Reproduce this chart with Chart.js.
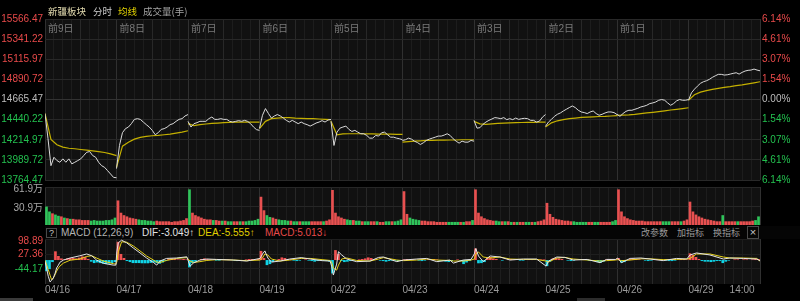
<!DOCTYPE html>
<html>
<head>
<meta charset="utf-8">
<script src="https://cdn.jsdelivr.net/npm/chart.js@4.4.1/dist/chart.umd.min.js"></script>
<style>
  body { margin: 0; background: #000; width: 800px; height: 301px; overflow: hidden; position: relative;
         font-family: "Liberation Sans", "Noto Sans CJK SC", sans-serif; }
  canvas { position: absolute; left: 0; }
  .hd { position: absolute; top: 4px; font-size: 9.5px; line-height: 14px; white-space: nowrap; font-family: "Noto Sans CJK SC", sans-serif; }
  #macdBar { position: absolute; left: 45px; top: 226px; width: 755px; height: 13px; background: #050505; }
  #macdBar span { position: absolute; top: 0; font-size: 10px; line-height: 13px; white-space: nowrap; }
  #macdBar span.cn { font-size: 9px; font-family: "Noto Sans CJK SC", sans-serif; color: #9a9a9a; }
  .box { position: absolute; border: 1px solid #4a4a4a; color: #c8c8c8; font-size: 9px; line-height: 9px; text-align: center; }
  .thumb { position: absolute; top: 298px; height: 3px; background: #3a3a3a; }
</style>
</head>
<body>
<canvas id="priceChart" width="800" height="190" style="top:0"></canvas>
<canvas id="volChart" width="800" height="48" style="top:180px"></canvas>
<canvas id="macdChart" width="800" height="75" style="top:226px"></canvas>

<div class="hd" style="left:48px;color:#e4dcb0">新疆板块</div>
<div class="hd" style="left:93px;color:#cdcdcd">分时</div>
<div class="hd" style="left:118px;color:#e0d000">均线</div>
<div class="hd" style="left:143px;color:#a4a4a4">成交量(手)</div>

<div id="macdBar">
  <div class="box" style="left:1px;top:2px;width:9px;height:8px">?</div>
  <span style="left:16px;color:#b4b4b4">MACD (12,26,9)</span>
  <span style="left:97px;color:#e2e2e2">DIF:-3.049↑</span>
  <span style="left:153px;color:#e0d000">DEA:-5.555↑</span>
  <span style="left:220px;color:#e84a4a">MACD:5.013↓</span>
  <span class="cn" style="left:596px">改参数</span>
  <span class="cn" style="left:632px">加指标</span>
  <span class="cn" style="left:668px">换指标</span>
  <div class="box" style="left:702px;top:0;width:10px;height:11px;line-height:11px;font-size:11px">×</div>
</div>
<div class="thumb" style="left:0;width:33px"></div>
<div class="thumb" style="left:577px;width:28px;background:#2c2c2c"></div>

<script>
// Axis labels
const dates = ['04/16', '04/17', '04/18', '04/19', '04/22', '04/23', '04/24', '04/25', '04/26', '04/29'];
const dayTags = ['前9日', '前8日', '前7日', '前6日', '前5日', '前4日', '前3日', '前2日', '前1日'];
const priceTicks = [15566.47, 15341.22, 15115.97, 14890.72, 14665.47, 14440.22, 14214.97, 13989.72, 13764.47];
const pctTicks = ['6.14%', '4.61%', '3.07%', '1.54%', '0.00%', '1.54%', '3.07%', '4.61%', '6.14%'];
const volTicks = [61.9, 30.9];
const volLabels = ['61.9万', '30.9万'];
const macdTicks = [98.89, 27.36, -44.17];

// Price every 10 minutes (25 points per day)
const price0416 = [14508, 14230, 13925, 14019, 13982, 13963, 14001, 13963, 14001, 13945, 13963, 13982, 14001, 14038, 14075, 14083, 14038, 14019, 13963, 13925, 13906, 13869, 13832, 13794, 13790];
const price0417 = [13892, 14151, 14294, 14339, 14357, 14395, 14443, 14451, 14443, 14413, 14384, 14357, 14320, 14271, 14294, 14331, 14339, 14357, 14384, 14395, 14421, 14443, 14451, 14481, 14497];
const price0418 = [14421, 14357, 14395, 14406, 14421, 14421, 14421, 14451, 14469, 14443, 14443, 14451, 14443, 14443, 14421, 14413, 14421, 14429, 14421, 14432, 14421, 14395, 14357, 14328, 14320];
const price0419 = [14342, 14489, 14564, 14508, 14458, 14481, 14497, 14481, 14458, 14432, 14413, 14432, 14413, 14395, 14413, 14395, 14384, 14368, 14384, 14402, 14413, 14429, 14413, 14436, 14443];
const price0422 = [14421, 14151, 14300, 14345, 14357, 14368, 14331, 14308, 14320, 14300, 14282, 14282, 14263, 14233, 14233, 14263, 14256, 14294, 14300, 14271, 14244, 14244, 14233, 14226, 14215];
const price0423 = [14207, 14215, 14233, 14222, 14199, 14184, 14162, 14181, 14207, 14222, 14233, 14244, 14256, 14256, 14267, 14282, 14263, 14226, 14199, 14177, 14199, 14188, 14188, 14207, 14199];
const price0424 = [14432, 14345, 14350, 14387, 14413, 14432, 14447, 14463, 14458, 14451, 14463, 14440, 14451, 14440, 14458, 14443, 14451, 14455, 14451, 14432, 14432, 14413, 14424, 14469, 14497];
const price0425 = [14365, 14413, 14443, 14477, 14500, 14515, 14537, 14556, 14575, 14593, 14575, 14545, 14526, 14519, 14508, 14526, 14537, 14508, 14489, 14500, 14515, 14526, 14526, 14519, 14497];
const price0426 = [14500, 14477, 14508, 14533, 14545, 14545, 14556, 14567, 14582, 14590, 14601, 14620, 14627, 14638, 14657, 14665, 14657, 14627, 14601, 14620, 14650, 14665, 14657, 14657, 14665];
const price0429 = [14657, 14740, 14781, 14815, 14846, 14864, 14875, 14891, 14913, 14931, 14947, 14947, 14939, 14942, 14950, 14958, 14965, 14950, 14969, 14984, 14992, 14995, 15006, 14995, 14987];

// Average price every 20 minutes (13 points per day)
const avg0416 = [14508, 14218, 14159, 14132, 14120, 14114, 14106, 14098, 14091, 14083, 14072, 14057, 14038];
const avg0417 = [13906, 14143, 14188, 14222, 14241, 14252, 14260, 14263, 14271, 14278, 14289, 14300, 14316];
const avg0418 = [14395, 14373, 14384, 14391, 14398, 14402, 14406, 14410, 14413, 14413, 14413, 14413, 14413];
const avg0419 = [14339, 14421, 14451, 14458, 14463, 14463, 14458, 14455, 14451, 14451, 14447, 14443, 14440];
const avg0422 = [14421, 14271, 14280, 14282, 14282, 14282, 14280, 14280, 14278, 14278, 14278, 14275, 14275];
const avg0423 = [14188, 14195, 14199, 14203, 14207, 14207, 14210, 14210, 14212, 14212, 14215, 14215, 14215];
const avg0424 = [14421, 14393, 14387, 14393, 14398, 14402, 14404, 14406, 14408, 14410, 14410, 14412, 14413];
const avg0425 = [14357, 14404, 14427, 14440, 14451, 14458, 14466, 14469, 14472, 14475, 14477, 14481, 14485];
const avg0426 = [14489, 14491, 14494, 14500, 14508, 14515, 14522, 14530, 14539, 14548, 14556, 14564, 14573];
const avg0429 = [14657, 14719, 14748, 14765, 14778, 14789, 14801, 14810, 14821, 14830, 14841, 14852, 14864];

// Volume (万手), one bar per 10 minutes
const vol0416 = [30, 22, 19, 17, 15, 14, 12, 11, 10, 10, 9, 9, 8, 8, 8, 7, 8, 7, 7, 7, 8, 8, 9, 12];
const vol0417 = [40, 20, 16, 14, 12, 11, 10, 9, 8, 8, 7, 7, 6, 7, 6, 6, 6, 6, 5, 6, 6, 7, 8, 11];
const vol0418 = [58, 20, 16, 14, 12, 10, 9, 9, 8, 8, 7, 7, 7, 6, 6, 6, 6, 6, 6, 6, 7, 7, 8, 10];
const vol0419 = [46, 24, 16, 13, 12, 10, 9, 8, 8, 7, 7, 6, 6, 6, 6, 6, 6, 6, 6, 6, 6, 6, 7, 9];
const vol0422 = [57, 20, 14, 12, 10, 9, 8, 8, 7, 7, 6, 6, 6, 6, 6, 6, 5, 5, 6, 6, 6, 6, 7, 9];
const vol0423 = [55, 18, 12, 10, 9, 8, 7, 7, 6, 6, 6, 5, 5, 5, 5, 5, 5, 5, 5, 5, 5, 6, 6, 8];
const vol0424 = [58, 20, 14, 11, 9, 8, 7, 7, 6, 6, 6, 6, 5, 5, 5, 5, 5, 5, 5, 5, 5, 6, 7, 9];
const vol0425 = [36, 18, 13, 10, 9, 8, 7, 7, 6, 6, 5, 5, 5, 5, 5, 5, 5, 5, 5, 5, 5, 5, 6, 8];
const vol0426 = [58, 22, 14, 11, 9, 8, 7, 7, 7, 6, 6, 6, 6, 6, 6, 6, 6, 6, 6, 6, 6, 6, 7, 9];
const vol0429 = [38, 22, 17, 14, 12, 10, 9, 8, 7, 6, 6, 16, 6, 6, 6, 6, 6, 6, 6, 6, 6, 7, 8, 14];
// opening bar direction per session (true = up / red)
const openUp = [false, true, false, true, true, true, true, true, true, true];

// MACD histogram, one bar per 10 minutes
const macd0416 = [-55, -45, -10, 43, 20, 8, 3, 8, 10, 10, 8, 12, 18, 15, 5, -8, -15, -12, -15, -18, -20, -18, -15, -10];
const macd0417 = [90, 30, 10, -5, -10, -15, -15, -15, -16, -16, -16, -14, -12, -15, -18, -12, -5, 5, 8, 5, 3, 3, 5, 3];
const macd0418 = [-36, -15, -8, 0, 5, 8, 5, 3, 0, -3, -3, 0, 3, 3, 0, -3, -5, -3, 0, 3, 5, 5, 3, 5];
const macd0419 = [45, 10, -25, -20, -10, 0, 5, 13, 10, 5, 3, -3, -5, -3, 0, 3, -3, -5, -8, -5, -3, -3, -5, -8];
const macd0422 = [-66, 49, 30, -5, -10, -8, -5, -3, 0, 3, 5, 8, 13, 10, 5, 0, -3, -5, -8, -5, -3, -3, -5, -5];
const macd0423 = [3, 5, 5, 3, 0, -3, -5, -3, 3, 5, 5, 3, -3, -5, -8, -10, -5, 0, 3, -3, -20, -12, -5, 0];
const macd0424 = [57, -16, -15, -10, 10, 15, 8, 5, 0, -3, 0, 3, 5, 3, 0, -3, -3, 0, 3, 3, 0, 3, 3, 3];
const macd0425 = [-30, -8, 8, 10, 8, 5, 0, -3, -5, -3, 0, 3, 3, 0, -3, -5, -3, -10, -13, -8, 3, 5, 3, 3];
const macd0426 = [10, -13, -10, 0, 5, 8, 5, 3, 0, -3, -5, -3, 3, 5, 3, 0, -3, -5, -5, -3, 0, 5, 5, 3];
const macd0429 = [33, 25, 15, 5, -5, -8, -8, -10, -8, -5, -5, -15, -8, -3, 0, 3, 3, 0, 3, 3, 0, 3, 5, 5];

// DIF / DEA lines (minute index over the 10 sessions)
const macdMin = [0, 11, 17, 22, 28, 34, 39, 45, 50, 62, 84, 117, 140, 157, 173, 196, 229, 238,
  241, 246, 257, 274, 296, 319, 341, 364, 375, 386, 408, 442, 476,
  487, 498, 520, 543, 576, 632, 677, 722,
  730, 738, 748, 760, 789, 822, 860, 890, 930, 957,
  962, 968, 979, 985, 996, 1013, 1046, 1091, 1120, 1136, 1181,
  1203, 1248, 1281, 1315, 1359, 1371, 1404, 1430,
  1441, 1446, 1455, 1471, 1494, 1527, 1561, 1606, 1650,
  1682, 1690, 1718, 1745, 1773, 1820, 1863, 1885, 1915,
  1922, 1935, 1964, 2000, 2031, 2075, 2120, 2154,
  2165, 2187, 2232, 2277, 2299, 2344, 2389, 2400];
const difLine = [-6, -80, -108, -100, -89, -65, -39, -25, -11, 0, 10, 21, 30, 21, 0, -16, -25, -25,
  40, 85, 98, 85, 60, 35, 10, -12, -25, -5, 8, 10, 16,
  -30, -15, 0, 5, 3, 0, -5, 8,
  30, 45, 10, -10, -5, 5, 12, 5, -3, -5,
  -30, -74, -20, 41, 25, 5, -8, -5, 13, 15, -8,
  0, 5, 8, -8, 0, -15, 0, 3,
  30, 57, 20, -8, 20, 15, 0, 5, 5,
  -30, -5, 15, 13, 0, 3, -13, 3, 3,
  10, -13, 8, 10, 5, -3, 8, 5,
  25, 35, 25, 5, 10, 8, 5, -3.049];
const deaLine = [-1, -47, -75, -97, -88, -72, -55, -39, -30, -15, -1, 5, 18, 21, 10, -5, -18, -20,
  -10, 40, 90, 88, 70, 45, 20, 0, -10, -12, -2, 8, 12,
  -5, -12, -8, -2, 2, 0, -3, 0,
  10, 30, 25, 5, -5, 0, 8, 8, 2, -2,
  -10, -40, -50, -25, 5, 10, -2, -5, 5, 12, 0,
  -3, 0, 5, 0, -2, -5, -5, 0,
  5, 30, 40, 15, 10, 15, 5, 3, 3,
  -5, -10, 10, 13, 5, 0, -5, -3, 0,
  2, -3, 0, 6, 6, 2, 3, 5,
  8, 30, 30, 15, 10, 10, 8, -5.555];

const priceDays = [price0416, price0417, price0418, price0419, price0422, price0423, price0424, price0425, price0426, price0429];
const avgDays = [avg0416, avg0417, avg0418, avg0419, avg0422, avg0423, avg0424, avg0425, avg0426, avg0429];
const volDays = [vol0416, vol0417, vol0418, vol0419, vol0422, vol0423, vol0424, vol0425, vol0426, vol0429];
const macdDays = [macd0416, macd0417, macd0418, macd0419, macd0422, macd0423, macd0424, macd0425, macd0426, macd0429];

const RED = '#e84a4a';
const GREEN = '#23c14f';
const GREY = '#bdbdbd';
const FONT = '10px "Liberation Sans", "Noto Sans CJK SC", sans-serif';
const DAY = 240;

// one line per session, broken between sessions
function sessionPoints(list, step) {
    const pts = [];
    list.forEach((vals, d) => {
        vals.forEach((v, k) => pts.push({ x: d * DAY + k * step, y: v }));
        pts.push({ x: d * DAY + DAY, y: null });
    });
    return pts;
}

function barPoints(list) {
    const pts = [];
    list.forEach((vals, d) => vals.forEach((v, k) => pts.push({ x: d * DAY + k * 10 + 5, y: v })));
    return pts;
}

// volume colour: opening bar from openUp, others against previous sample
const volColors = [];
volDays.forEach((vals, d) => vals.forEach((_, k) => {
    const p = priceDays[d];
    const up = k === 0 ? openUp[d] : p[k + 1] >= p[k];
    volColors.push(up ? '#e85050' : '#2fc45a');
}));
const macdBars = barPoints(macdDays);

// shared x axis: 10 sessions x 240 minutes, grid every 30 minutes
function timeAxis() {
    return {
        type: 'linear', min: 0, max: DAY * 10, offset: false,
        border: { display: false },
        ticks: { display: false },
        afterBuildTicks: (scale) => {
            const t = [];
            for (let v = 0; v <= DAY * 10; v += 30) t.push({ value: v });
            scale.ticks = t;
        },
        grid: {
            drawTicks: false,
            offset: false,
            color: (c) => {
                const v = c.tick ? c.tick.value : 0;
                return v % DAY === 0 ? '#303030' : v % 120 === 0 ? '#282828' : '#1d1d1d';
            }
        }
    };
}

function valueAxis(min, max, ticks, color) {
    return {
        min, max,
        border: { display: false },
        ticks: { display: false },
        afterBuildTicks: (scale) => { scale.ticks = ticks.map(v => ({ value: v })); },
        grid: { drawTicks: false, color }
    };
}

const panelBg = {
    id: 'panelBg',
    beforeDraw(chart) {
        const { ctx, chartArea: a } = chart;
        ctx.save();
        ctx.fillStyle = '#111111';
        ctx.fillRect(a.left, a.top, a.right - a.left, a.bottom - a.top);
        ctx.restore();
    }
};

const baseOptions = {
    responsive: false,
    animation: false,
    devicePixelRatio: 1,
    plugins: { legend: { display: false }, tooltip: { enabled: false } },
    elements: { point: { radius: 0 }, line: { tension: 0 } }
};

// Price panel
new Chart(document.getElementById('priceChart'), {
    type: 'line',
    data: {
        datasets: [
            { data: sessionPoints(priceDays, 10), borderColor: '#dadada', borderWidth: 1, spanGaps: false },
            { data: sessionPoints(avgDays, 20), borderColor: '#c4b000', borderWidth: 1.2, spanGaps: false }
        ]
    },
    options: {
        ...baseOptions,
        layout: { padding: { left: 45, right: 40, top: 19, bottom: 10 } },
        scales: {
            x: timeAxis(),
            y: valueAxis(13764.47, 15566.47, priceTicks, (c) => c.tick && c.tick.value === 14665.47 ? '#333333' : '#282828')
        }
    },
    plugins: [panelBg, {
        id: 'priceLabels',
        afterDraw(chart) {
            const { ctx, chartArea: a, scales: { x, y } } = chart;
            ctx.save();
            ctx.font = FONT;
            ctx.textBaseline = 'middle';
            priceTicks.forEach((v, i) => {
                const py = y.getPixelForValue(v);
                ctx.fillStyle = i < 4 ? RED : i === 4 ? GREY : GREEN;
                ctx.textAlign = 'right';
                ctx.fillText(v.toFixed(2), 43, py);
                ctx.textAlign = 'left';
                ctx.fillText(pctTicks[i], 762, py);
            });
            ctx.fillStyle = '#7a7a7a';
            ctx.textAlign = 'left';
            dayTags.forEach((t, d) => ctx.fillText(t, x.getPixelForValue(d * DAY) + 3, a.top + 10));
            ctx.restore();
        }
    }]
});

// Volume panel
new Chart(document.getElementById('volChart'), {
    type: 'bar',
    data: {
        datasets: [{ data: barPoints(volDays), backgroundColor: volColors, barPercentage: 0.9, categoryPercentage: 1 }]
    },
    options: {
        ...baseOptions,
        layout: { padding: { left: 45, right: 40, top: 7, bottom: 3 } },
        scales: { x: timeAxis(), y: valueAxis(0, 61.9, volTicks, '#262626') }
    },
    plugins: [panelBg, {
        id: 'volLabels',
        afterDraw(chart) {
            const { ctx, scales: { y } } = chart;
            ctx.save();
            ctx.font = FONT;
            ctx.textBaseline = 'middle';
            ctx.textAlign = 'right';
            ctx.fillStyle = '#a8a8a8';
            volTicks.forEach((v, i) => ctx.fillText(volLabels[i], 43, y.getPixelForValue(v) + 2));
            ctx.restore();
        }
    }]
});

// MACD panel
new Chart(document.getElementById('macdChart'), {
    data: {
        datasets: [
            { type: 'line', data: macdMin.map((m, i) => ({ x: m, y: difLine[i] })), borderColor: '#e4e4e4', borderWidth: 1 },
            { type: 'line', data: macdMin.map((m, i) => ({ x: m, y: deaLine[i] })), borderColor: '#e6d21a', borderWidth: 1 },
            {
                type: 'bar', data: macdBars, barPercentage: 0.9, categoryPercentage: 1,
                backgroundColor: macdBars.map(p => p.y >= 0 ? '#f05252' : '#10d4e6')
            }
        ]
    },
    options: {
        ...baseOptions,
        layout: { padding: { left: 45, right: 40, top: 13, bottom: 17 } },
        scales: { x: timeAxis(), y: valueAxis(-118.2, 103.8, macdTicks, '#1e1e1e') }
    },
    plugins: [panelBg, {
        id: 'macdLabels',
        afterDraw(chart) {
            const { ctx, chartArea: a, scales: { x, y } } = chart;
            ctx.save();
            ctx.font = FONT;
            ctx.textBaseline = 'middle';
            ctx.textAlign = 'right';
            macdTicks.forEach((v, i) => {
                ctx.fillStyle = v > 0 ? RED : GREEN;
                ctx.fillText(v.toFixed(2), 43, y.getPixelForValue(v) + (i === 0 ? 1 : 0));
            });
            ctx.fillStyle = '#9a9a9a';
            ctx.textAlign = 'left';
            dates.forEach((t, d) => ctx.fillText(t, x.getPixelForValue(d * DAY), a.bottom + 6));
            ctx.textAlign = 'center';
            ctx.fillText('14:00', x.getPixelForValue(9 * DAY + 180), a.bottom + 6);
            ctx.restore();
        }
    }]
});
</script>
</body>
</html>
